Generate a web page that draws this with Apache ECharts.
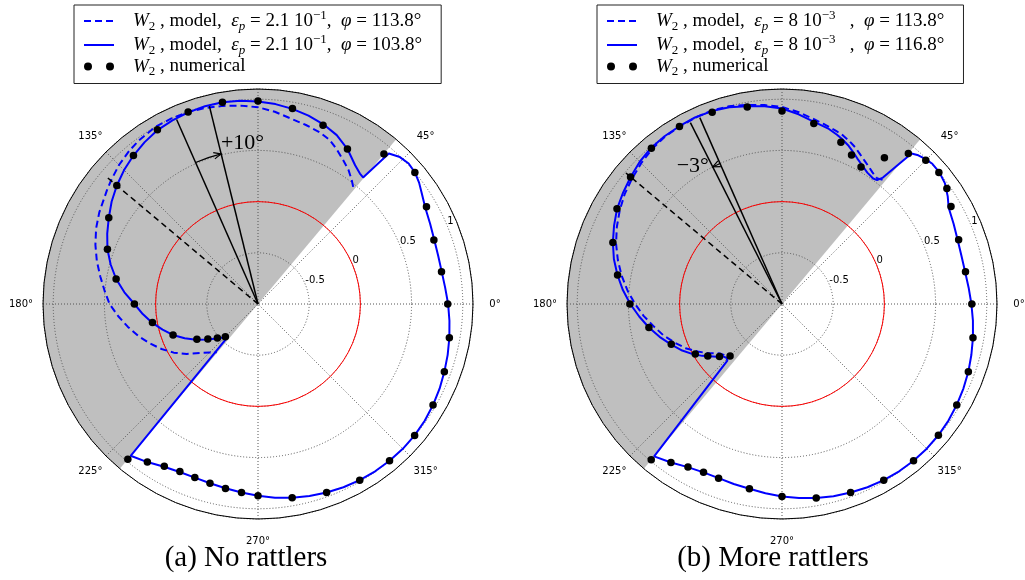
<!DOCTYPE html>
<html><head><meta charset="utf-8">
<script src="https://cdn.jsdelivr.net/npm/echarts@6/dist/echarts.min.js"></script>
<style>html,body{margin:0;padding:0;background:#fff}#c{width:1025px;height:580px}</style>
</head><body><div id="c"></div>
<script>
// ---------------- DATA ----------------
// angle ticks (degrees) shown on the angular axis (90° is hidden by the legend box)
const angleLabelTicks = [0, 45, 135, 180, 225, 270, 315];
// radial tick values and their labels
const radiusTickValues = [-0.5, 0, 0.5, 1];
const radiusTickLabels = ['-0.5', '0', '0.5', '1'];
// shaded angular range (deg) and reference (red) circle value
const shadedSector = [50, 230];
const refCircleValue = 0;

// ----- (a) No rattlers : [angle (deg), W2] -----
const aNumerical = [[0,0.853],[10,0.82],[20,0.828],[30,0.9],[40,1.0],[50,0.914],[60,0.747],[70,0.857],[80,0.938],
  [90,0.983],[100,1.0],[110,0.995],[120,0.965],[130,0.893],[140,0.8],[150,0.683],[160,0.565],[170,0.407],[180,0.207],
  [190,0.047],[200,-0.117],[210,-0.311],[215,-0.402],[220,-0.482],[225,-0.549],[230,0.978],[235,0.884],[240,0.831],
  [245,0.806],[250,0.804],[255,0.812],[260,0.829],[265,0.848],[270,0.873],[280,0.922],[290,0.96],[300,0.987],
  [310,0.999],[320,0.997],[330,0.974],[340,0.937],[350,0.898]];
const aModelSolid = [[0,0.857],[5,0.835],[10,0.822],[15,0.822],[20,0.832],[25,0.855],[30,0.886],[34,0.93],[37,0.97],
  [40,1.0],[43,1.012],[46,0.995],[49,0.948],[50.3,0.607],[52,0.617],[55,0.654],[60,0.748],[65,0.82],[70,0.868],
  [75,0.905],[80,0.935],[85,0.96],[90,0.977],[95,0.993],[100,1.0],[105,1.0],[110,0.992],[115,0.978],[120,0.962],
  [125,0.93],[130,0.893],[135,0.85],[140,0.8],[145,0.745],[150,0.683],[155,0.625],[160,0.565],[165,0.49],[170,0.407],
  [175,0.31],[180,0.207],[185,0.13],[190,0.05],[195,-0.035],[200,-0.115],[205,-0.21],[210,-0.3],[215,-0.395],
  [220,-0.475],[224,-0.53],[227.5,-0.56],[230,0.935],[235,0.885],[240,0.835],[245,0.81],[250,0.805],[255,0.812],
  [260,0.828],[265,0.848],[270,0.873],[275,0.9],[280,0.922],[285,0.942],[290,0.96],[295,0.975],[300,0.987],
  [305,0.995],[310,0.999],[315,1.0],[320,0.997],[325,0.988],[330,0.974],[335,0.957],[340,0.937],[345,0.918],
  [350,0.898],[355,0.877],[360,0.857]];
const aModelDashed = [[50.9,0.474],[53,0.52],[56,0.58],[59.4,0.633],[63,0.695],[66.3,0.747],[70,0.78],[75,0.81],
  [80,0.84],[85,0.885],[90,0.922],[95,0.945],[100,0.965],[105,0.983],[110,0.995],[115,1.0],[120,1.0],[126,0.977],
  [130,0.955],[135,0.92],[140,0.875],[143,0.847],[150,0.79],[155,0.745],[160,0.69],[165,0.63],[170,0.565],
  [175,0.505],[180,0.45],[185,0.37],[190,0.29],[195,0.21],[200,0.125],[205,0.04],[210,-0.05],[215,-0.15],
  [220,-0.255],[225,-0.33],[229.5,-0.38]];
const aPhiLines = [[113.8, 0.97], [103.8, 0.99]];   // [phi, end value]
const aRefLine = [140, 0.93];
const aPhiShift = '+10°';

// ----- (b) More rattlers : [angle (deg), W2] -----
const bNumerical = [[0,0.854],[10,0.82],[20,0.836],[30,0.906],[35,0.966],[40,1.0],[45,0.986],[50,0.92],[55,0.744],
  [60,0.544],[65,0.607],[70,0.682],[80,0.79],[90,0.886],[100,0.954],[110,0.994],[120,1.003],[130,0.985],[140,0.931],
  [150,0.861],[160,0.758],[170,0.631],[180,0.486],[190,0.32],[200,0.151],[210,-0.022],[215,-0.115],[220,-0.203],
  [225,-0.283],[230,0.987],[235,0.891],[240,0.837],[245,0.814],[250,0.811],[260,0.833],[270,0.88],[280,0.925],
  [290,0.959],[300,0.987],[310,0.999],[320,0.994],[330,0.971],[340,0.937],[350,0.894]];
const bModelSolid = [[0,0.85],[5,0.83],[10,0.816],[15,0.815],[20,0.826],[25,0.85],[30,0.88],[33,0.93],[36.5,0.98],
  [40,1.005],[43,1.008],[45.5,0.99],[47.5,0.97],[49.3,0.94],[51.4,0.58],[52.5,0.525],[54,0.515],[57,0.53],
  [60,0.565],[62.6,0.6],[65,0.64],[67.4,0.68],[70,0.715],[72,0.738],[75,0.77],[80,0.806],[85,0.86],[90,0.909],
  [95,0.94],[100,0.962],[105,0.99],[110,1.005],[115,1.01],[120,1.005],[125,1.0],[130,0.99],[135,0.965],[140,0.93],
  [145,0.895],[150,0.86],[155,0.81],[160,0.758],[165,0.7],[170,0.632],[175,0.56],[180,0.482],[185,0.4],[190,0.32],
  [195,0.238],[200,0.155],[205,0.075],[209,0.005],[213,-0.07],[216,-0.13],[219,-0.18],[221.5,-0.228],[224,-0.245],
  [226,-0.232],[230,0.943],[235,0.89],[240,0.84],[245,0.815],[250,0.81],[255,0.82],[260,0.833],[265,0.855],
  [270,0.88],[275,0.903],[280,0.925],[285,0.943],[290,0.959],[295,0.975],[300,0.987],[305,0.995],[310,0.999],
  [315,0.999],[320,0.994],[325,0.985],[330,0.971],[335,0.955],[340,0.937],[345,0.915],[350,0.894],[355,0.872],
  [360,0.85]];
const bModelDashed = [[51,0.56],[53,0.54],[55.5,0.56],[58,0.59],[60,0.615],[62.5,0.65],[65,0.69],[67.5,0.722],
  [70,0.75],[72.5,0.77],[77,0.805],[80,0.83],[85,0.88],[90,0.925],[95,0.95],[100,0.975],[105,1.0],[110,1.01],
  [115,1.008],[120,1.0],[125,0.995],[130,0.975],[135,0.945],[140,0.91],[145,0.875],[150,0.83],[155,0.78],
  [160,0.725],[165,0.66],[170,0.59],[175,0.515],[180,0.435],[185,0.355],[190,0.27],[195,0.195],[200,0.11],
  [205,0.03],[210,-0.065],[214,-0.14],[218.5,-0.225],[222,-0.25]];
const bPhiLines = [[116.8, 0.985], [113.8, 0.99]];
const bRefLine = [140, 0.99];
const bPhiShift = '−3°';

// legend texts
const legendA = { dashed: ['2.1 10', '−1', '', '113.8°'], solid: ['2.1 10', '−1', '', '103.8°'] };
const legendB = { dashed: ['8 10', '−3', '   ', '113.8°'], solid: ['8 10', '−3', '   ', '116.8°'] };
const captions = ['(a) No rattlers', '(b) More rattlers'];

// ---------------- STYLE / BUILD ----------------
const SERIF = '"Liberation Serif", "DejaVu Serif", serif';
const SANS = '"DejaVu Sans", sans-serif';
const BLUE = '#0000ff';
const GRID = { color: '#555', width: 1, type: [1, 2] };
const toRA = arr => arr.map(([a, r]) => [r, a]);

function sectorItem(params, api) {
  const cs = params.coordSys;
  const a0 = api.value(0), a1 = api.value(1);
  return { type: 'sector', silent: true,
    shape: { cx: cs.cx, cy: cs.cy, r0: 0, r: cs.r, startAngle: -a1 * Math.PI / 180, endAngle: -a0 * Math.PI / 180, clockwise: true },
    style: { fill: '#bfbfbf' } };
}
function circleItem(params, api) {
  const cs = params.coordSys;
  const p = api.coord([api.value(0), 0]);
  const rr = Math.hypot(p[0] - cs.cx, p[1] - cs.cy);
  return { type: 'circle', shape: { cx: cs.cx, cy: cs.cy, r: rr }, style: { fill: 'none', stroke: '#ff0000', lineWidth: 1 } };
}
function angleLabelItem(params, api) {
  const cs = params.coordSys;
  const a = api.value(0);
  const p = api.coord([0, a]);
  const dx = p[0] - cs.cx, dy = p[1] - cs.cy, L = Math.hypot(dx, dy);
  const R = cs.r + 22;
  return { type: 'text', style: { text: a + '°', x: cs.cx + dx / L * R, y: cs.cy + dy / L * R,
    align: 'center', verticalAlign: 'middle', fontSize: 10, fontFamily: SANS, fill: '#000' } };
}
function radiusLabelItem(params, api) {
  const p = api.coord([api.value(0), 22.5]);
  return { type: 'text', style: { text: radiusTickLabels[params.dataIndex], x: p[0], y: p[1] + 1,
    align: 'left', verticalAlign: 'bottom', fontSize: 10, fontFamily: SANS, fill: '#000' } };
}
function arrowItem(params, api) {
  const cs = params.coordSys;
  const r = api.value(0), a0 = api.value(1), a1 = api.value(2);
  const p0 = api.coord([r, a0]);
  const rad = Math.hypot(p0[0] - cs.cx, p0[1] - cs.cy);
  const s = -a0 * Math.PI / 180, e = -a1 * Math.PI / 180;
  const tip = api.coord([r, a1]);
  const dir = a1 > a0 ? 1 : -1;
  const back = api.coord([r, a1 - dir * 1.5]);
  let ux = tip[0] - back[0], uy = tip[1] - back[1];
  const L = Math.hypot(ux, uy); ux /= L; uy /= L;
  const hl = 8, th = 0.42;
  const rot = t => [ux * Math.cos(t) - uy * Math.sin(t), ux * Math.sin(t) + uy * Math.cos(t)];
  const d1 = rot(th), d2 = rot(-th);
  return { type: 'group', children: [
    { type: 'arc', shape: { cx: cs.cx, cy: cs.cy, r: rad, startAngle: Math.min(s, e), endAngle: Math.max(s, e), clockwise: true },
      style: { stroke: '#000', lineWidth: 1.2, fill: 'none' } },
    { type: 'polyline', shape: { points: [[tip[0] - hl * d1[0], tip[1] - hl * d1[1]], tip, [tip[0] - hl * d2[0], tip[1] - hl * d2[1]]] },
      style: { stroke: '#000', lineWidth: 1.2, fill: 'none' } }
  ] };
}
function textItemFactory(txt) {
  return function (params, api) {
    const p = api.coord([api.value(0), api.value(1)]);
    return { type: 'text', style: { text: txt, x: p[0], y: p[1], align: 'center', verticalAlign: 'middle',
      fontSize: 22, fontFamily: SERIF, fill: '#000' } };
  };
}

function buildPolarSeries(pi, prefix, numerical, solid, dashed, phiLines, refLine, shiftText, arc, textPos) {
  const list = [];
  list.push({ type: 'custom', coordinateSystem: 'polar', polarIndex: pi, z: -10, silent: true,
    renderItem: sectorItem, data: [shadedSector] });
  list.push({ type: 'custom', coordinateSystem: 'polar', polarIndex: pi, z: 1, silent: true,
    renderItem: circleItem, data: [[refCircleValue]] });
  list.push({ type: 'custom', coordinateSystem: 'polar', polarIndex: pi, z: 1, silent: true,
    renderItem: angleLabelItem, data: angleLabelTicks.map(a => [a]) });
  list.push({ type: 'custom', coordinateSystem: 'polar', polarIndex: pi, z: 3, silent: true,
    renderItem: radiusLabelItem, data: radiusTickValues.map(v => [v]) });
  list.push({ name: prefix + 'dashed', type: 'line', coordinateSystem: 'polar', polarIndex: pi, z: 2,
    data: toRA(dashed), symbol: 'none', color: BLUE, lineStyle: { color: BLUE, width: 2, type: [7, 4] } });
  list.push({ name: prefix + 'solid', type: 'line', coordinateSystem: 'polar', polarIndex: pi, z: 3,
    data: toRA(solid), symbol: 'none', color: BLUE, lineStyle: { color: BLUE, width: 2 } });
  phiLines.forEach(([phi, rEnd]) => {
    list.push({ type: 'line', coordinateSystem: 'polar', polarIndex: pi, z: 4, symbol: 'none',
      data: [[-1, phi], [rEnd, phi]], lineStyle: { color: '#000', width: 1.5 } });
  });
  list.push({ type: 'line', coordinateSystem: 'polar', polarIndex: pi, z: 4, symbol: 'none',
    data: [[-1, refLine[0]], [refLine[1], refLine[0]]], lineStyle: { color: '#000', width: 1.5, type: [6, 4] } });
  list.push({ type: 'custom', coordinateSystem: 'polar', polarIndex: pi, z: 4, silent: true,
    renderItem: arrowItem, data: [arc] });
  list.push({ type: 'custom', coordinateSystem: 'polar', polarIndex: pi, z: 4, silent: true,
    renderItem: textItemFactory(shiftText), data: [textPos] });
  list.push({ name: prefix + 'num', type: 'scatter', coordinateSystem: 'polar', polarIndex: pi, z: 5,
    data: toRA(numerical), symbol: 'circle', symbolSize: 7.5, color: '#000', itemStyle: { color: '#000', opacity: 1 } });
  return list;
}

const series = [].concat(
  buildPolarSeries(0, 'a_', aNumerical, aModelSolid, aModelDashed, aPhiLines, aRefLine, aPhiShift,
    [0.51, aPhiLines[0][0], aPhiLines[1][0]], [0.58, 95.5]),
  buildPolarSeries(1, 'b_', bNumerical, bModelSolid, bModelDashed, bPhiLines, bRefLine, bPhiShift,
    [0.5, bPhiLines[1][0], bPhiLines[0][0]], [0.6, 123])
);

function modelText(parts) {
  return '{g| }{i|W}{s|2}{n| , model,  }{i|ε}{si|p}{n| = ' + parts[0] + '}{u|' + parts[1] + '}{n|' + parts[2] + ',  }{i|φ}{n| = ' + parts[3] + '}';
}
const numText = '{g| }{i|W}{s|2}{n| , numerical}';
const legendTexts = {
  a_dashed: modelText(legendA.dashed), a_solid: modelText(legendA.solid), a_num: numText,
  b_dashed: modelText(legendB.dashed), b_solid: modelText(legendB.solid), b_num: numText
};
const FS = 19;
const rich = {
  g: { width: 14, fontSize: 10 },
  n: { fontFamily: SERIF, fontSize: FS, lineHeight: 24, color: '#000' },
  i: { fontFamily: SERIF, fontStyle: 'italic', fontSize: FS, lineHeight: 24, color: '#000' },
  s: { fontFamily: SERIF, fontSize: 13, lineHeight: 13, verticalAlign: 'bottom', color: '#000' },
  si: { fontFamily: SERIF, fontStyle: 'italic', fontSize: 13, lineHeight: 13, verticalAlign: 'bottom', color: '#000' },
  u: { fontFamily: SERIF, fontSize: 13, lineHeight: 13, verticalAlign: 'top', color: '#000' }
};
const dotsIcon = 'path://M0,4a4,4 0 1,0 8,0a4,4 0 1,0 -8,0ZM22,4a4,4 0 1,0 8,0a4,4 0 1,0 -8,0Z';
const hiddenSymbol = { color: 'rgba(0,0,0,0)', borderWidth: 0, opacity: 0 };
function makeLegend(prefix, left) {
  return { orient: 'vertical', left: left, top: 5, padding: [4, 19, 5, 9], itemGap: 0,
    itemWidth: 30, itemHeight: 8, borderColor: '#222', borderWidth: 1, backgroundColor: '#fff',
    selectedMode: false,
    data: [{ name: prefix + 'dashed', itemStyle: hiddenSymbol }, { name: prefix + 'solid', itemStyle: hiddenSymbol },
      { name: prefix + 'num', icon: dotsIcon, itemStyle: { color: '#000', opacity: 1 } }],
    formatter: name => legendTexts[name],
    textStyle: { rich: rich } };
}

function angleAxis(pi) {
  return { polarIndex: pi, type: 'value', min: 0, max: 360, interval: 45, startAngle: 0, clockwise: false,
    axisLine: { show: true, lineStyle: { color: '#000', width: 1 } }, axisTick: { show: false },
    axisLabel: { show: false }, splitLine: { show: true, lineStyle: GRID } };
}
function radiusAxis(pi) {
  return { polarIndex: pi, type: 'value', min: -1, max: 1.1, interval: 0.5,
    axisLine: { show: false }, axisTick: { show: false }, axisLabel: { show: false },
    splitLine: { show: true, lineStyle: GRID } };
}

const option = {
  animation: false,
  backgroundColor: '#fff',
  polar: [{ center: [258, 304], radius: 215 }, { center: [782, 304], radius: 215 }],
  angleAxis: [angleAxis(0), angleAxis(1)],
  radiusAxis: [radiusAxis(0), radiusAxis(1)],
  legend: [makeLegend('a_', 74), makeLegend('b_', 597)],
  graphic: [
    { type: 'text', x: 246, y: 558, style: { text: captions[0], fontSize: 29, fontFamily: SERIF, fill: '#000', align: 'center', verticalAlign: 'middle' } },
    { type: 'text', x: 773, y: 558, style: { text: captions[1], fontSize: 29, fontFamily: SERIF, fill: '#000', align: 'center', verticalAlign: 'middle' } }
  ],
  series: series
};
const chart = echarts.init(document.getElementById('c'), null, { renderer: 'canvas' });
chart.setOption(option);
</script></body></html>
